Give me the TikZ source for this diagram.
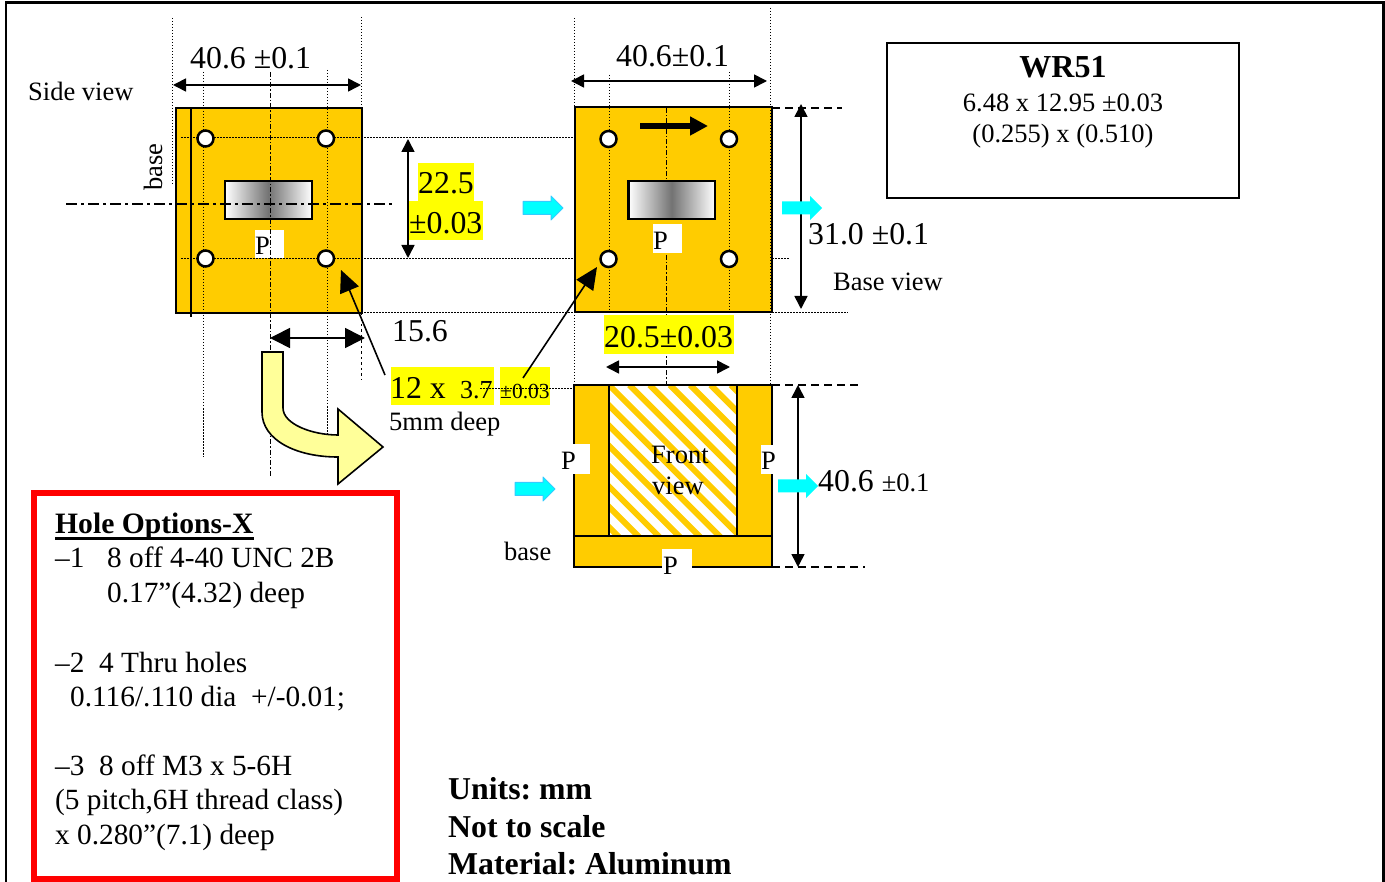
\documentclass[tikz,border=0pt]{standalone}
\usepackage{fontspec}
\setmainfont{Liberation Serif}
\usetikzlibrary{arrows.meta,calc}
\definecolor{gold}{RGB}{255,204,0}
\definecolor{hl}{RGB}{255,255,0}
\definecolor{cy}{RGB}{0,255,255}
\definecolor{cyb}{RGB}{51,204,255}
\definecolor{pale}{RGB}{255,255,153}
\newcommand{\fsz}[1]{\fontsize{#1}{#1}\selectfont}
\frenchspacing
\tikzset{
  lbl/.style={inner sep=0pt,anchor=base west},
  lblc/.style={inner sep=0pt,anchor=base},
  big/.style={font=\fsz{31.8}},
  mid/.style={font=\fsz{26.5}},
  list/.style={lbl,font=\fsz{29.3}},
  strong/.style={lbl,font=\fsz{31.8}\bfseries},
  block/.style={fill=gold,draw=black,line width=2pt},
  edge/.style={line width=2pt},
  slot/.style={draw=black,line width=2.2pt,left color=white,right color=white,middle color=black!55},
  hole/.style={circle,fill=white,draw=black,line width=2.5pt,minimum size=16pt,inner sep=0pt},
  guide/.style={line width=0.9pt,dash pattern=on 1.5pt off 1.5pt},
  axisline/.style={line width=1.3pt,dash pattern=on 11pt off 4pt on 3pt off 4pt},
  axisv/.style={line width=1pt,dash pattern=on 5pt off 2pt on 1.5pt off 2pt},
  dashline/.style={line width=1.6pt,dash pattern=on 8pt off 5pt},
  dimline/.style={line width=1.6pt,{Triangle[length=13pt,width=13pt]}-{Triangle[length=13pt,width=13pt]}},
  dimbig/.style={line width=1.6pt,{Triangle[length=20pt,width=20pt]}-{Triangle[length=20pt,width=20pt]}},
  pointer/.style={line width=1.6pt,-{Triangle[length=22pt,width=20pt]}},
  flowline/.style={line width=5.5pt,-{Triangle[length=18pt,width=18pt]}},
  hlbox/.style={fill=hl},
  pmask/.style={fill=white},
  cyanin/.style={fill=cy,draw=cyb,line width=1pt,line join=round},
  cyanout/.style={fill=cy},
}
\newcommand{\cyarrow}[4]{% x0,y,len,style
  \path[#4] (#1,#2-6.5) -- (#1+#3-12,#2-6.5) -- (#1+#3-12,#2-12) -- (#1+#3,#2) -- (#1+#3-12,#2+12) -- (#1+#3-12,#2+6.5) -- (#1,#2+6.5) -- cycle;}
\begin{document}
\begin{tikzpicture}[x=1pt,y=-1pt]
\useasboundingbox (0,0) rectangle (1385,882);
\clip (0,0) rectangle (1385,882);
% page frame
\draw[line width=2.6pt] (6,900) -- (6,2.5) -- (1383.5,2.5) -- (1383.5,900);

% ---------- side view
\fill[hlbox] (418,163) rectangle (474,201);
\fill[hlbox] (409,201) rectangle (483,240);
\draw[block] (175.5,108) rectangle (361.5,313);
\draw[edge] (191,108) -- (191,317);
\draw[slot] (225,181) rectangle (312,219);
\fill[pmask] (255,230) rectangle (284,258);
\draw[guide] (172,18) -- (172,186);
\draw[guide] (361,17) -- (361,313);
\draw[guide,dash pattern=on 2.5pt off 3pt] (361,313) -- (361,380);
\draw[guide] (203,72) -- (203,457);
\draw[guide] (327,70) -- (327,435);
\draw[axisv] (270,72) -- (270,476);
\draw[axisline] (66,204) -- (393,204);
\draw[guide] (181,137.5) -- (762,137.5);
\draw[guide] (181,258.5) -- (790,258.5);
\draw[guide] (349,312.5) -- (848,312.5);
\node[hole] (h1) at (205.5,138.5) {};
\node[hole] (h2) at (326,138.5) {};
\node[hole] (h3) at (205.5,258.5) {};
\node[hole] (h4) at (326,258.5) {};
\node[lbl,mid] (p1) at (255,255) {P};

% ---------- base view
\draw[block] (575,107) rectangle (772,312);
\draw[slot] (628.5,181) rectangle (715,219);
\fill[pmask] (653,224) rectangle (682,253);
\draw[guide] (574,18) -- (574,385);
\draw[guide] (770,8) -- (770,385);
\draw[guide] (609,75) -- (609,318);
\draw[guide] (729,72) -- (729,318);
\draw[axisv] (666,108) -- (666,180);
\draw[axisv] (666,255) -- (666,385);
\node[hole] (h5) at (608.5,139) {};
\node[hole] (h6) at (729,139) {};
\node[hole] (h7) at (608.5,259) {};
\node[hole] (h8) at (729,259) {};
\node[lbl,mid] (p2) at (653,250) {P};
\coordinate (fa) at (640,126);
\coordinate (fb) at (708,126);
\draw[flowline] (fa) -- (fb);
\draw[dashline] (772,108) -- (842,108);

% ---------- front view
\fill[hlbox] (604,315) rectangle (734,354);
\fill[hlbox] (391,367) rectangle (494,405);
\fill[hlbox] (500,367) rectangle (550,405);
\begin{scope}
\clip (609,385) rectangle (737,536);
\foreach \i in {-12,...,8}
  \draw[gold,line width=6pt] (609+\i*20.3,385) -- ++(170,170);
\end{scope}
\fill[gold] (574,385) rectangle (609,536);
\fill[gold] (737,385) rectangle (772,536);
\draw[block] (574,536) rectangle (772,567);
\draw[edge] (574,536) -- (574,385) -- (772,385) -- (772,536);
\draw[edge] (609,385) -- (609,536) (737,385) -- (737,536);
\fill[pmask] (560,444) rectangle (590,474);
\fill[pmask] (761,445) rectangle (776,474);
\fill[pmask] (662,549) rectangle (692,569);
\draw[dashline] (772,385) -- (860,385);
\draw[dashline] (772,567) -- (865,567);

% ---------- dimension arrows
\coordinate (d1a) at (173,85);   \coordinate (d1b) at (361,85);
\coordinate (d2a) at (571,81);   \coordinate (d2b) at (767,81);
\coordinate (d3a) at (408,139);  \coordinate (d3b) at (408,258);
\coordinate (d4a) at (801,104);  \coordinate (d4b) at (801,309);
\coordinate (d5a) at (270,338);  \coordinate (d5b) at (365,338);
\coordinate (d6a) at (606,367);  \coordinate (d6b) at (730,367);
\coordinate (d7a) at (798,385);  \coordinate (d7b) at (798,567);
\draw[dimline] (d1a) -- (d1b);
\draw[dimline] (d2a) -- (d2b);
\draw[dimline] (d3a) -- (d3b);
\draw[dimline] (d4a) -- (d4b);
\draw[dimbig] (d5a) -- (d5b);
\draw[dimline] (d6a) -- (d6b);
\draw[dimline] (d7a) -- (d7b);
\coordinate (pa) at (385,375); \coordinate (pb) at (341,270);
\coordinate (pc) at (523,378); \coordinate (pd) at (597,267);
\draw[pointer] (pa) -- (pb);
\draw[pointer] (pc) -- (pd);

% ---------- cyan arrows
\cyarrow{523}{208}{40}{cyanin}
\cyarrow{782}{208}{40}{cyanout}
\cyarrow{515}{489}{40}{cyanin}
\cyarrow{778}{486}{40}{cyanout}

% ---------- yellow bent arrow
\draw[fill=pale,line width=1.6pt,line join=miter] (262,352) -- (283,352) -- (283,408)
  .. controls (283,424) and (312,435) .. (338,435)
  -- (338,409) -- (383,447) -- (338,484) -- (338,457)
  .. controls (296,457) and (262,440) .. (262,412) -- cycle;

% ---------- WR51 box
\draw[edge] (887,43) rectangle (1239,198);
\node[lblc,font=\fsz{32}\bfseries] (wr) at (1063,78) {WR51};
\node[lblc,mid] (wr1) at (1063,112) {6.48 x 12.95 ±0.03};
\node[lblc,mid] (wr2) at (1063,143) {(0.255) x (0.510)};

% ---------- labels
\node[lbl,big] (t1) at (190,69) {40.6 ±0.1};
\node[lbl,big] (t2) at (616,67) {40.6±0.1};
\node[lbl,mid] (t3) at (28,101) {Side view};
\node[lbl,mid,rotate=90] (t4) at (162,191) {base};
\node[lbl,big] (t5) at (418,194) {22.5};
\node[lbl,big] (t6) at (409,234) {±0.03};
\node[lbl,big] (t7) at (808,245) {31.0 ±0.1};
\node[lbl,mid] (t8) at (833,291) {Base view};
\node[lbl,big] (t9) at (392,342) {15.6};
\node[lbl,big] (t10) at (604,348) {20.5±0.03};
\node[lbl,big] (t11) at (390,399) {12 x};
\node[lbl,font=\fsz{26}] (t12) at (460,399) {3.7};
\node[lbl,font=\fsz{21.5}] (t13) at (500,399) {±0.03};
\node[lbl,mid] (t14) at (389,431) {5mm deep};
\node[lbl,mid] (t15) at (561,470) {P};
\node[lbl,mid] (t16) at (761,470) {P};
\node[lbl,mid] (t17) at (663,574) {P};
\node[lbl,mid] (t18) at (651,464) {Front};
\node[lbl,mid] (t19) at (652,495) {view};
\node[lbl,mid] (t20) at (504,560) {base};
\node[lbl] (t21) at (818,492) {\fsz{31.8}40.6 \fsz{26.5}±0.1};
\draw[guide] (480,388) -- (574,388);

% ---------- hole options
\draw[red,line width=6pt] (34,493) rectangle (397,879);
\node[lbl,font=\fsz{29.6}\bfseries] (o0) at (55,533) {Hole Options-X};
\draw[line width=2.2pt] (o0.base west) ++(0,5.5) -- ($(o0.base east)+(0,5.5)$);
\node[list] (o1) at (55,567) {–1};
\node[list] (o1b) at (107,567) {8 off 4-40 UNC 2B};
\node[list] (o2) at (107,602) {0.17”(4.32) deep};
\node[list] (o3) at (55,672) {–2\ \ 4 Thru holes};
\node[list] (o4) at (70,706) {0.116/.110 dia\ \ +/-0.01;};
\node[list] (o5) at (55,775) {–3\ \ 8 off M3 x 5-6H};
\node[list] (o6) at (55,809) {(5 pitch,6H thread class)};
\node[list] (o7) at (55,844) {x 0.280”(7.1) deep};

% ---------- notes
\node[strong] (n1) at (448,799) {Units: mm};
\node[strong] (n2) at (448,837) {Not to scale};
\node[strong] (n3) at (448,874) {Material: Aluminum};
\end{tikzpicture}
\end{document}
